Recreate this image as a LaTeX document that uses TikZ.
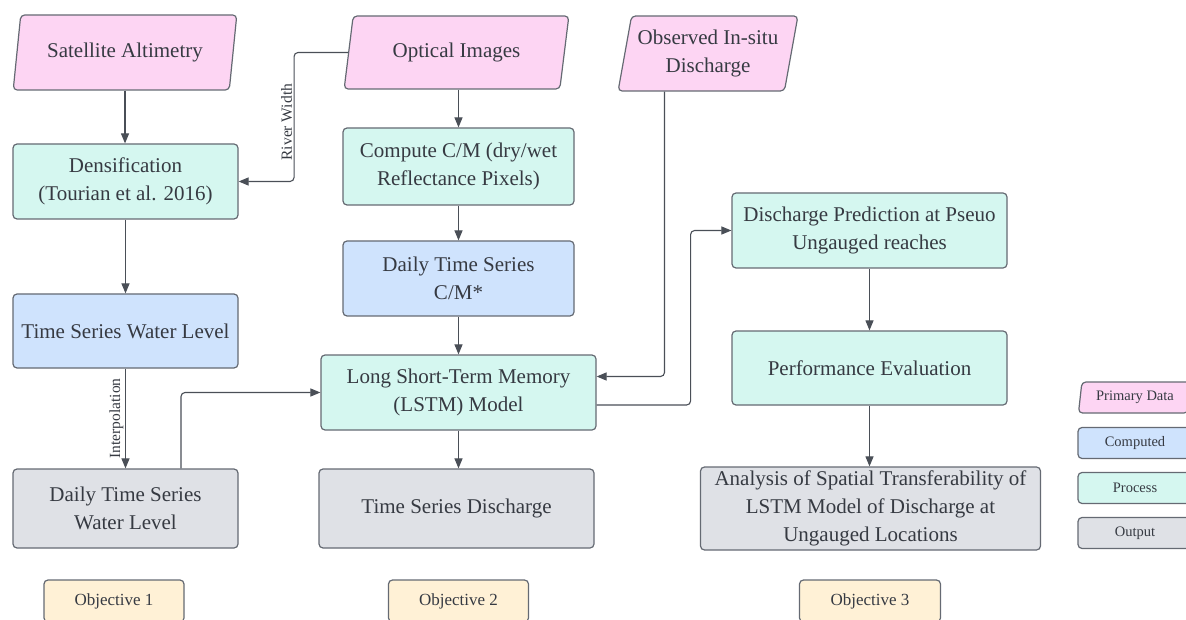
\documentclass[tikz,border=0pt]{standalone}
\usepackage{fontspec}
\setmainfont{Liberation Serif}
\usetikzlibrary{arrows.meta,shapes.geometric}
\definecolor{pinkf}{HTML}{FDD5F3}
\definecolor{tealf}{HTML}{D5F7F0}
\definecolor{bluef}{HTML}{CFE3FD}
\definecolor{grayf}{HTML}{DFE1E6}
\definecolor{creamf}{HTML}{FFF1D6}
\definecolor{bordc}{HTML}{656A73}
\definecolor{linec}{HTML}{4A4F57}
\definecolor{txtc}{HTML}{363A42}
\begin{document}
\begin{tikzpicture}[x=1pt,y=-1pt,
  box/.style={draw=bordc, line width=1.2pt, rounded corners=4pt, align=center, text=txtc,
              font=\fontsize{21}{28}\selectfont, inner sep=2pt},
  databox/.style={box, fill=pinkf, trapezium, trapezium stretches=true,
              trapezium left angle=76, trapezium right angle=104},
  procbox/.style={box, fill=tealf},
  compbox/.style={box, fill=bluef},
  outbox/.style={box, fill=grayf},
  objbox/.style={box, fill=creamf, font=\fontsize{17}{20}\selectfont},
  legbox/.style={font=\fontsize{14.5}{17}\selectfont, minimum width=114pt, minimum height=31pt},
  arr/.style={draw=linec, line width=1.1pt, -{Triangle[length=10pt,width=8pt]}},
  lab/.style={font=\fontsize{15.5}{18}\selectfont, text=txtc, rotate=90, anchor=south, inner sep=1.5pt}
]
\useasboundingbox (0,0) rectangle (1186,620);
\clip (0,0) rectangle (1186,620);

% column 1
\node[databox, minimum width=224pt, minimum height=75pt] (sat) at (125,52.5) {Satellite Altimetry};
\node[procbox, minimum width=225pt, minimum height=75pt] (dens) at (125.5,181.5) {Densification\\(Tourian et al. 2016)};
\node[compbox, minimum width=225pt, minimum height=74pt] (tswl) at (125.5,331) {Time Series Water Level};
\node[outbox, minimum width=225pt, minimum height=79pt] (dtswl) at (125.5,508.5) {Daily Time Series\\Water Level};

% column 2
\node[databox, minimum width=225pt, minimum height=73pt] (opt) at (456.5,52.5) {Optical Images};
\node[procbox, minimum width=231pt, minimum height=77pt] (comp) at (458.5,166.5) {Compute C/M (dry/wet\\Reflectance Pixels)};
\node[compbox, minimum width=231pt, minimum height=75pt] (dcm) at (458.5,278.5) {Daily Time Series\\C/M*};
\node[procbox, minimum width=275pt, minimum height=75pt] (lstm) at (458.5,392.5) {Long Short-Term Memory\\(LSTM) Model};
\node[outbox, minimum width=275pt, minimum height=79pt] (tsd) at (456.5,508.5) {Time Series Discharge};

% column 3
\node[databox, minimum width=180pt, minimum height=75pt] (obs) at (708,53.5) {Observed In-situ\\Discharge};
\node[procbox, minimum width=275pt, minimum height=75pt] (dp) at (869.5,230.5) {Discharge Prediction at Pseuo\\Ungauged reaches};
\node[procbox, minimum width=275pt, minimum height=74pt] (pe) at (869.5,368) {Performance Evaluation};
\node[outbox, minimum width=340pt, minimum height=83pt] (an) at (870.5,508.5) {Analysis of Spatial Transferability of\\LSTM Model of Discharge at\\Ungauged Locations};

% objectives
\node[objbox, minimum width=140pt, minimum height=42pt] (obj1) at (114,601) {Objective 1};
\node[objbox, minimum width=140pt, minimum height=42pt] (obj2) at (458.5,601) {Objective 2};
\node[objbox, minimum width=141pt, minimum height=42pt] (obj3) at (870,601) {Objective 3};

% legend
\node[databox, legbox, trapezium left angle=81, trapezium right angle=99] (lgp) at (1135,397.5) {Primary Data};
\node[compbox, legbox] (lgc) at (1135,443) {Computed};
\node[procbox, legbox] (lgr) at (1135,488) {Process};
\node[outbox, legbox] (lgo) at (1135,533) {Output};

% connectors
\draw[arr] (sat.south) -- (sat.south |- dens.north);
\draw[arr, rounded corners=4pt] (opt.west) -- ++(-54,0)
   |- node[lab, pos=0.27] {River Width} (dens.east);
\draw[arr] (dens) -- (tswl);
\draw[arr] (tswl) -- node[lab] {Interpolation} (dtswl);
\draw[arr, rounded corners=4pt] ([xshift=55.5pt]dtswl.north) |- (lstm.west);

\draw[arr] (comp.north |- opt.south) -- (comp.north);
\draw[arr] (comp) -- (dcm);
\draw[arr] (dcm) -- (lstm);
\draw[arr] (lstm.south) -- (lstm.south |- tsd.north);

\draw[arr, rounded corners=4pt] ([xshift=-43.5pt]obs.south) |- ([yshift=16pt]lstm.east);
\draw[arr, rounded corners=4pt] ([yshift=-12.5pt]lstm.east) -- ++(94,0) |- (dp.west);
\draw[arr] (dp) -- (pe);
\draw[arr] (pe.south) -- (pe.south |- an.north);
\end{tikzpicture}
\end{document}
